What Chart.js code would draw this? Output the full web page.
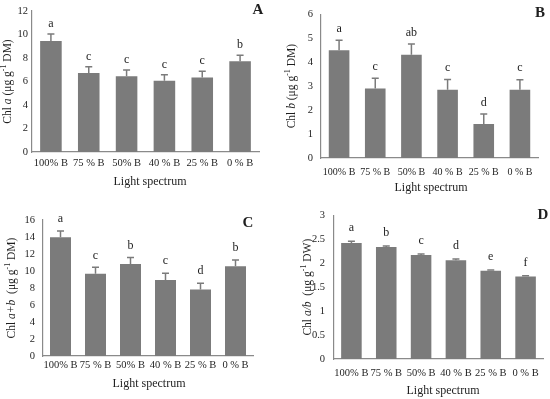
<!DOCTYPE html>
<html>
<head>
<meta charset="utf-8">
<script src="https://cdn.jsdelivr.net/npm/chart.js@4.4.1/dist/chart.umd.min.js"></script>
<style>
  body { margin: 0; background: #fff; width: 550px; height: 399px; position: relative; overflow: hidden; }
  canvas { position: absolute; }
</style>
</head>
<body>
<canvas id="pA" width="275" height="200" style="left:0;top:0"></canvas>
<canvas id="pB" width="275" height="200" style="left:275px;top:0"></canvas>
<canvas id="pC" width="275" height="199" style="left:0;top:200px"></canvas>
<canvas id="pD" width="275" height="199" style="left:275px;top:200px"></canvas>
<script>
// categories shared by all four panels
const categories = ["100% B", "75 % B", "50% B", "40 % B", "25 % B", "0 % B"];

// A: Chl a
const chlA = [9.45, 6.72, 6.45, 6.07, 6.33, 7.72];
const chlAErr = [0.6, 0.54, 0.53, 0.51, 0.54, 0.51];
const chlALetters = ["a", "c", "c", "c", "c", "b"];

// B: Chl b
const chlB = [4.5, 2.9, 4.31, 2.85, 1.42, 2.85];
const chlBErr = [0.42, 0.43, 0.45, 0.43, 0.42, 0.42];
const chlBLetters = ["a", "c", "ab", "c", "d", "c"];

// C: Chl a+b
const chlAB = [13.96, 9.69, 10.82, 8.94, 7.81, 10.55];
const chlABErr = [0.74, 0.74, 0.76, 0.79, 0.74, 0.74];
const chlABLetters = ["a", "c", "b", "c", "d", "b"];

// D: Chl a/b
const ratioAB = [2.42, 2.34, 2.17, 2.06, 1.84, 1.72];
const ratioABErr = [0.04, 0.02, 0.02, 0.03, 0.02, 0.02];
const ratioABLetters = ["a", "b", "c", "d", "e", "f"];

// y axis titles, split in pieces: n = normal, i = italic, s = superscript
const titleA = [["Chl ", "n"], ["a", "i"], [" (μg g", "n"], ["-1", "s"], [" DM)", "n"]];
const titleB = [["Chl ", "n"], ["b", "i"], [" (μg g", "n"], ["-1", "s"], [" DM)", "n"]];
const titleC = [["Chl ", "n"], ["a+b", "i"], ["  (μg g", "n"], ["-1", "s"], [" DM)", "n"]];
const titleD = [["Chl ", "n"], ["a/b", "i"], ["  (μg g", "n"], ["-1", "s"], [" DW)", "n"]];
const xTitle = "Light spectrum";

const barColor = "#7b7b7b";
const axisColor = "#8a8a8a";
const textColor = "#1e1e1e";
const family = "'Liberation Serif', 'Times New Roman', serif";

const annotate = {
  id: "annotate",
  afterDatasetsDraw(chart, args, o) {
    const ctx = chart.ctx;
    const ys = chart.scales.y;
    const meta = chart.getDatasetMeta(0);
    const vals = chart.data.datasets[0].data;
    const area = chart.chartArea;
    ctx.save();
    // error bars + letters
    ctx.strokeStyle = barColor;
    ctx.lineWidth = 1.5;
    ctx.fillStyle = textColor;
    ctx.font = "12px " + family;
    ctx.textAlign = "center";
    ctx.textBaseline = "middle";
    meta.data.forEach((bar, i) => {
      const y0 = ys.getPixelForValue(vals[i]);
      const y1 = ys.getPixelForValue(vals[i] + o.err[i]);
      ctx.beginPath();
      ctx.moveTo(bar.x, y0);
      ctx.lineTo(bar.x, y1);
      ctx.moveTo(bar.x - 3.5, y1);
      ctx.lineTo(bar.x + 3.5, y1);
      ctx.stroke();
      ctx.fillText(o.letters[i], bar.x, y1 - o.gap);
    });
    // x title
    ctx.font = "12px " + family;
    ctx.fillText(xTitle, o.xTitleX, o.xTitleY);
    // panel tag
    ctx.font = "bold 15px " + family;
    ctx.fillText(o.tag, o.tagX, o.tagY);
    // y title, rotated
    const fonts = {
      n: "11.5px " + family,
      i: "italic 11.5px " + family,
      s: "8px " + family
    };
    let total = 0;
    o.yTitle.forEach(p => { ctx.font = fonts[p[1]]; total += ctx.measureText(p[0]).width; });
    ctx.translate(o.yTitleX, (area.top + area.bottom) / 2);
    ctx.rotate(-Math.PI / 2);
    ctx.textAlign = "left";
    let x = -total / 2;
    o.yTitle.forEach(p => {
      ctx.font = fonts[p[1]];
      ctx.fillText(p[0], x, p[1] === "s" ? -4 : 0);
      x += ctx.measureText(p[0]).width;
    });
    ctx.restore();
  }
};

function panel(id, vals, err, letters, yTitle, lay) {
  const canvas = document.getElementById(id);
  const w = canvas.width, h = canvas.height;
  return new Chart(canvas, {
    type: "bar",
    data: {
      labels: categories,
      datasets: [{
        data: vals,
        backgroundColor: barColor,
        barPercentage: lay.barPct,
        categoryPercentage: 1
      }]
    },
    options: {
      responsive: false,
      animation: false,
      devicePixelRatio: 1,
      layout: { padding: { left: 0, right: w - lay.right, top: lay.top, bottom: 0 } },
      plugins: {
        legend: { display: false },
        tooltip: { enabled: false },
        annotate: {
          err: err, letters: letters, yTitle: yTitle, gap: lay.gap,
          tag: lay.tag, tagX: lay.tagX, tagY: lay.tagY,
          xTitleX: lay.xTitleX, xTitleY: lay.xTitleY, yTitleX: lay.yTitleX
        }
      },
      scales: {
        x: {
          grid: { display: false, drawTicks: false },
          border: { color: axisColor, width: 1.2 },
          ticks: {
            color: textColor, font: { family: family, size: lay.xFont },
            padding: lay.xPad, maxRotation: 0, autoSkip: false
          },
          afterFit(s) { s.height = h - lay.bottom; }
        },
        y: {
          min: 0, max: lay.max,
          grid: { display: false, drawTicks: false },
          border: { color: axisColor, width: 1.2 },
          ticks: {
            stepSize: lay.step, color: textColor,
            font: { family: family, size: 10.5 }, padding: lay.yPad,
            callback: v => String(+v.toFixed(1))
          },
          afterFit(s) { s.width = lay.left; }
        }
      }
    },
    plugins: [annotate]
  });
}

panel("pA", chlA, chlAErr, chlALetters, titleA, {
  left: 32, right: 259, top: 11, bottom: 152, max: 12, step: 2, barPct: 0.57,
  xFont: 10.5, xPad: 5, yPad: 4, gap: 10,
  tag: "A", tagX: 258, tagY: 10, xTitleX: 150, xTitleY: 182, yTitleX: 8
});
panel("pB", chlB, chlBErr, chlBLetters, titleB, {
  left: 46, right: 263, top: 7, bottom: 158, max: 6, step: 1, barPct: 0.57,
  xFont: 10, xPad: 8, yPad: 8, gap: 11.5,
  tag: "B", tagX: 265, tagY: 13, xTitleX: 156, xTitleY: 188, yTitleX: 17
});
panel("pC", chlAB, chlABErr, chlABLetters, titleC, {
  left: 43, right: 253, top: 20, bottom: 156, max: 16, step: 2, barPct: 0.6,
  xFont: 10.5, xPad: 3, yPad: 8, gap: 12,
  tag: "C", tagX: 248, tagY: 23, xTitleX: 149, xTitleY: 184, yTitleX: 12
});
panel("pD", ratioAB, ratioABErr, ratioABLetters, titleD, {
  left: 59, right: 268, top: 13, bottom: 159, max: 3, step: 0.5, barPct: 0.59,
  xFont: 10.5, xPad: 8, yPad: 9, gap: 13,
  tag: "D", tagX: 268, tagY: 15, xTitleX: 168, xTitleY: 191, yTitleX: 33
});
</script>
</body>
</html>
